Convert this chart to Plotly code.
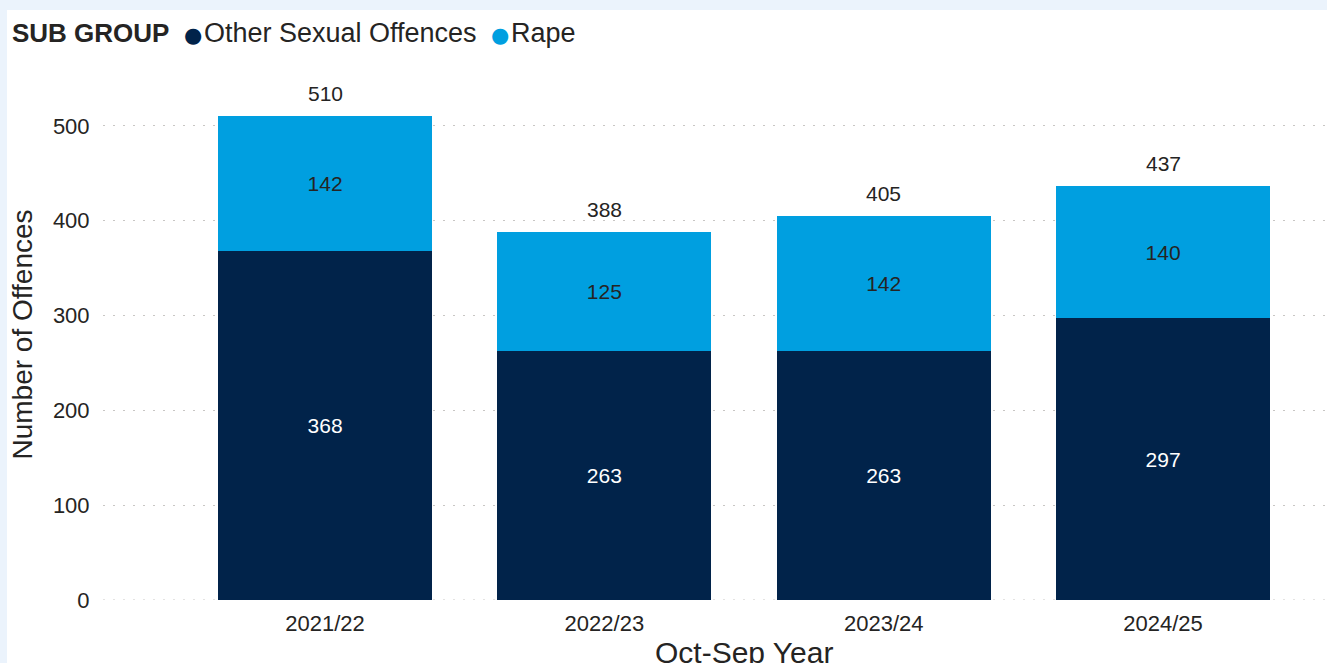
import plotly.graph_objects as go

# Offences by Oct-Sep year, split by sub group
years = ["2021/22", "2022/23", "2023/24", "2024/25"]
other_sexual = [368, 263, 263, 297]
rape = [142, 125, 142, 140]
series_names = ["Other Sexual Offences", "Rape"]
y_ticks = [0, 100, 200, 300, 400, 500]

NAVY = "#01234A"
CYAN = "#009FE0"
INK = "#252423"
GRID = "#C8C6C4"
GRID_DASH = "2px,8px"
FONT = "Liberation Sans, Arial, sans-serif"

W, H = 1327, 663
ML, MR, MT, MB = 103, 0, 69, 63
PW, PH = W - ML - MR, H - MT - MB


def px_x(x):
    return (x - ML) / PW


def px_y(y):
    return (H - MB - y) / PH


totals = [a + b for a, b in zip(other_sexual, rape)]
xs = list(range(len(years)))

fig = go.Figure()
fig.add_trace(go.Bar(
    x=xs, y=other_sexual, name=series_names[0], marker=dict(color=NAVY, line=dict(width=0)),
    text=other_sexual, texttemplate="%{text}", textposition="inside",
    insidetextanchor="middle", textangle=0, constraintext="none",
    insidetextfont=dict(family=FONT, size=21, color="white"), showlegend=False,
))
fig.add_trace(go.Bar(
    x=xs, y=rape, name=series_names[1], marker=dict(color=CYAN, line=dict(width=0)),
    text=rape, texttemplate="%{text}", textposition="inside",
    insidetextanchor="middle", textangle=0, constraintext="none",
    insidetextfont=dict(family=FONT, size=21, color=INK), showlegend=False,
))

# Stack totals above each bar
for x, t in zip(xs, totals):
    fig.add_annotation(x=x, y=t, xref="x", yref="y", text=str(t), showarrow=False,
                       yanchor="bottom", yshift=9, font=dict(family=FONT, size=21, color=INK))

# Legend header with round markers
dot = "font-family:DejaVu Sans;font-size:21px"
gap = "<span style='font-size:6px'>&nbsp;</span>"
legend_text = (
    "<b>SUB GROUP</b>&nbsp;&nbsp;"
    f"<span style='color:{NAVY};{dot}'>●</span>{gap}<span style='font-size:27px'>{series_names[0]}</span>&nbsp;&nbsp;"
    f"<span style='color:{CYAN};{dot}'>●</span>{gap}<span style='font-size:27px'>{series_names[1]}</span>"
)
fig.add_annotation(x=px_x(10), y=px_y(33), xref="paper", yref="paper", text=legend_text,
                   showarrow=False, xanchor="left", yanchor="middle",
                   font=dict(family=FONT, size=26, color=INK))

# X axis title centred under the category band
fig.add_annotation(x=(xs[0] + xs[-1]) / 2, y=px_y(634), xref="x", yref="paper",
                   text="Oct-Sep Year", showarrow=False, yanchor="top",
                   font=dict(family=FONT, size=30, color=INK))

# Dotted baseline at zero, matching the gridlines
fig.add_shape(type="line", xref="paper", yref="y", x0=0, x1=1, y0=0, y1=0,
              line=dict(color=GRID, width=1, dash=GRID_DASH), layer="below")

# Light blue frame strips at top and left
fig.add_shape(type="rect", xref="paper", yref="paper", x0=px_x(0), x1=px_x(W), y0=px_y(10), y1=px_y(0),
              fillcolor="#EBF3FC", line=dict(width=0), layer="below")
fig.add_shape(type="rect", xref="paper", yref="paper", x0=px_x(0), x1=px_x(7), y0=px_y(H), y1=px_y(0),
              fillcolor="#EBF3FC", line=dict(width=0), layer="below")

fig.update_layout(
    width=W, height=H,
    margin=dict(l=ML, r=MR, t=MT, b=MB, pad=0),
    barmode="stack", bargap=0.234,
    paper_bgcolor="white", plot_bgcolor="white",
    font=dict(family=FONT, color=INK),
    showlegend=False,
    xaxis=dict(
        range=[-0.795, 3.587], tickmode="array", tickvals=xs, ticktext=years,
        showgrid=False, zeroline=False, showline=False,
        ticks="outside", ticklen=4, tickcolor="rgba(0,0,0,0)",
        tickfont=dict(family=FONT, size=22, color=INK),
    ),
    yaxis=dict(
        range=[0, 560], tickmode="array", tickvals=y_ticks,
        showgrid=True, gridcolor=GRID, gridwidth=1, griddash=GRID_DASH,
        zeroline=False, showline=False,
        ticks="outside", ticklen=8, tickcolor="rgba(0,0,0,0)",
        tickfont=dict(family=FONT, size=22, color=INK),
        title=dict(text="Number of Offences", standoff=12,
                   font=dict(family=FONT, size=28, color=INK)),
    ),
)

fig.write_html("out.html")
